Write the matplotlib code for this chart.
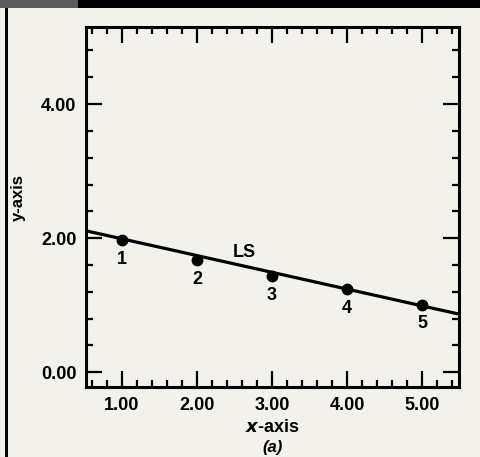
import numpy as np
import matplotlib.pyplot as plt
from matplotlib.patches import Rectangle
from matplotlib.ticker import MultipleLocator

# points
x_pts = [1.0, 2.0, 3.0, 4.0, 5.0]
y_pts = [1.97, 1.68, 1.44, 1.24, 1.01]
pt_labels = ["1", "2", "3", "4", "5"]

# drawn LS line (intercept, slope)
ls_coef = [2.24, -0.25]

x_ticks = [1.0, 2.0, 3.0, 4.0, 5.0]
y_ticks = [0.0, 2.0, 4.0]

paper = "#f2f1ec"
plt.rcParams['font.family'] = ['Liberation Sans', 'DejaVu Sans']
plt.rcParams['font.weight'] = 'bold'
plt.rcParams['axes.labelweight'] = 'bold'

fig = plt.figure(figsize=(4.8, 4.57), dpi=100, facecolor=paper)
ax = fig.add_axes([86 / 480, 1 - 387 / 457, (459 - 86) / 480, (387 - 27) / 457])
ax.set_facecolor(paper)

# scan edges: black band on top, dark strip on the left
fig.patches.append(Rectangle((0, 1 - 8 / 457), 1, 8 / 457, transform=fig.transFigure,
                             facecolor="black", edgecolor="none"))
fig.patches.append(Rectangle((0, 1 - 8 / 457), 78 / 480, 8 / 457, transform=fig.transFigure,
                             facecolor="#5a5a5a", edgecolor="none"))
fig.patches.append(Rectangle((5 / 480, 0), 3 / 480, 1 - 8 / 457, transform=fig.transFigure,
                             facecolor="black", edgecolor="none"))

ax.set_xlim(0.52, 5.49)
ax.set_ylim(-0.22, 5.15)

xx = np.array(ax.get_xlim())
ax.plot(xx, ls_coef[0] + ls_coef[1] * xx, color="black", lw=2.3, solid_capstyle="butt")
ax.plot(x_pts, y_pts, "o", color="black", ms=7.5)

for x, y, s in zip(x_pts, y_pts, pt_labels):
    ax.annotate(s, (x, y), xytext=(0, -14), textcoords="offset points",
                ha="center", va="center", fontsize=13)
ax.text(2.63, 1.78, "LS", ha="center", va="center", fontsize=13)

ax.set_xticks(x_ticks)
ax.set_xticklabels([f"{v:.2f}" for v in x_ticks])
ax.set_yticks(y_ticks)
ax.set_yticklabels([f"{v:.2f}" for v in y_ticks])
ax.xaxis.set_minor_locator(MultipleLocator(0.2))
ax.yaxis.set_minor_locator(MultipleLocator(0.4))

ax.tick_params(which="both", direction="in", top=True, right=True, width=1.6, color="black")
ax.tick_params(which="major", length=11.5, labelsize=13, pad=7)
ax.tick_params(which="minor", length=5)
for sp in ax.spines.values():
    sp.set_linewidth(2.2)

ax.set_xlabel(r"$\mathbfit{x}$-axis", fontsize=13, labelpad=4)
ax.set_ylabel("y-axis", fontsize=12)
ax.yaxis.set_label_coords(-0.16, 0.525)
ax.text(0.5, -0.169, "(a)", transform=ax.transAxes, ha="center", va="center",
        fontsize=12, style="italic")

fig.savefig("out.png", dpi=100, facecolor=paper)
